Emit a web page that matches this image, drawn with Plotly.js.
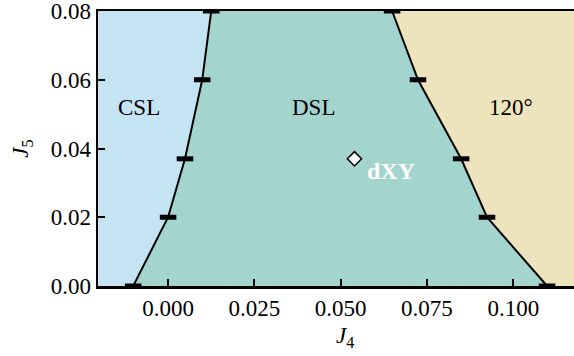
<!DOCTYPE html>
<html>
<head>
<meta charset="utf-8">
<script src="https://cdn.plot.ly/plotly-3.0.1.min.js"></script>
<style>html,body{margin:0;padding:0;background:#fff;}#chart{width:574px;height:356px;}</style>
</head>
<body>
<div id="chart"></div>
<script>
// J5 levels at which phase boundaries were determined
const J5Levels = [0.0, 0.02, 0.037, 0.06, 0.08];
// CSL / DSL boundary (J4 values)
const cslDslBoundary = [-0.0101, 0.0, 0.0049, 0.0099, 0.0125];
// DSL / 120° boundary (J4 values)
const dsl120Boundary = [0.1098, 0.0924, 0.0849, 0.0724, 0.0649];
// horizontal error bars (half-width in J4)
const cslDslErr = [0.0024, 0.0024, 0.0024, 0.0024, 0.0024];
const dsl120Err = [0.0024, 0.0024, 0.0024, 0.0024, 0.0024];
// dXY point
const dxyJ4 = [0.054];
const dxyJ5 = [0.037];
// phase labels
const phaseNames = ["CSL", "DSL", "120°"];
const phaseJ4 = [-0.0083, 0.042, 0.0994];
const phaseJ5 = [0.0518, 0.0518, 0.052];
// axis ticks
const xTicks = [0.0, 0.025, 0.05, 0.075, 0.1];
const xTickText = ["0.000", "0.025", "0.050", "0.075", "0.100"];
const yTicks = [0.0, 0.02, 0.04, 0.06, 0.08];
const yTickText = ["0.00", "0.02", "0.04", "0.06", "0.08"];
const xRange = [-0.0203, 0.1176];
const yRange = [0.0, 0.0800001];

const cCSL = "#c5e4f3";
const cDSL = "#a3d5ce";
const c120 = "#ede4bd";
const serif = "Liberation Serif, Times New Roman, serif";

const farLeft = xRange[0] - 0.02;
const cslX = [farLeft].concat(cslDslBoundary, [farLeft]);
const cslY = [J5Levels[0]].concat(J5Levels, [J5Levels[J5Levels.length - 1]]);
const dslX = cslDslBoundary.concat(dsl120Boundary.slice().reverse());
const dslY = J5Levels.concat(J5Levels.slice().reverse());

const traces = [
  {x: cslX, y: cslY, type: "scatter", mode: "lines", fill: "toself",
   fillcolor: cCSL, line: {width: 0}, hoverinfo: "skip"},
  {x: dslX, y: dslY, type: "scatter", mode: "lines", fill: "toself",
   fillcolor: cDSL, line: {width: 0}, hoverinfo: "skip"},
  {x: cslDslBoundary, y: J5Levels, type: "scatter", mode: "lines",
   line: {color: "black", width: 2}, cliponaxis: false,
   error_x: {type: "data", array: cslDslErr, color: "black", thickness: 5, width: 0}},
  {x: dsl120Boundary, y: J5Levels, type: "scatter", mode: "lines",
   line: {color: "black", width: 2}, cliponaxis: false,
   error_x: {type: "data", array: dsl120Err, color: "black", thickness: 5, width: 0}},
  {x: dxyJ4, y: dxyJ5, type: "scatter", mode: "markers",
   marker: {symbol: "diamond", size: 11, color: "white", line: {color: "black", width: 1.5}}}
];

const pw = 574 - 98, ph = 356 - 11 - 70;
const annotations = phaseNames.map((n, i) => ({
  x: phaseJ4[i], y: phaseJ5[i], xref: "x", yref: "y", text: n, showarrow: false,
  font: {family: serif, size: 23, color: "black"}, xanchor: "center", yanchor: "middle"
}));
annotations.push({
  x: dxyJ4[0] + 0.003, y: dxyJ5[0] - 0.0034, xref: "x", yref: "y", text: "<b>dXY</b>",
  showarrow: false, xanchor: "left", yanchor: "middle",
  font: {family: serif, size: 24, color: "white"}
});
annotations.push({
  x: (345 - 98) / pw, y: -(337 - 286) / ph, xref: "paper", yref: "paper",
  text: "<i>J</i><sub>4</sub>",
  showarrow: false, font: {family: serif, size: 23, color: "black"}, xanchor: "center", yanchor: "middle"
});

const layout = {
  width: 574, height: 356,
  margin: {l: 98, r: 0, t: 11, b: 70},
  paper_bgcolor: "white",
  plot_bgcolor: c120,
  showlegend: false,
  xaxis: {
    range: xRange, tickvals: xTicks, ticktext: xTickText,
    ticks: "inside", ticklen: 7, tickwidth: 2, tickcolor: "black",
    showline: true, linecolor: "black", linewidth: 2.5, mirror: true,
    showgrid: false, zeroline: false, ticklabeloverflow: "allow",
    tickfont: {family: serif, size: 23, color: "black"}
  },
  yaxis: {
    range: yRange, tickvals: yTicks, ticktext: yTickText,
    ticks: "inside", ticklen: 7, tickwidth: 2, tickcolor: "black",
    showline: true, linecolor: "black", linewidth: 2.5, mirror: false,
    showgrid: false, zeroline: false, ticklabeloverflow: "allow",
    tickfont: {family: serif, size: 23, color: "black"},
    title: {text: "<i>J</i><sub>5</sub>", font: {family: serif, size: 23, color: "black"}, standoff: 16}
  },
  annotations: annotations
};

Plotly.newPlot("chart", traces, layout, {staticPlot: true});
</script>
</body>
</html>
